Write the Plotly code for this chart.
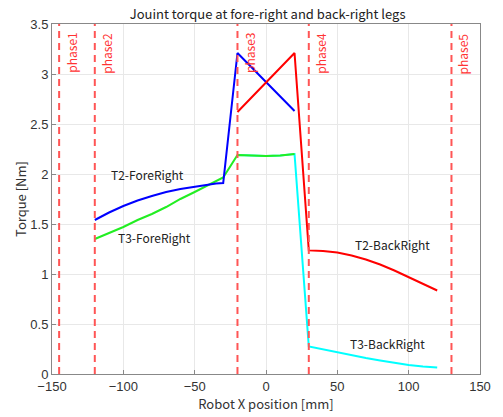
import plotly.graph_objects as go

# ---- data ----
t2_fore_x = [-120, -110, -100, -90, -80, -70, -60, -50, -40, -35, -30, -20, 20]
t2_fore_y = [1.54, 1.615, 1.68, 1.735, 1.78, 1.82, 1.85, 1.875, 1.895, 1.905, 1.91, 3.21, 2.63]

t3_fore_x = [-120, -110, -100, -90, -80, -70, -60, -50, -40, -30, -20, -10, 0, 10, 20]
t3_fore_y = [1.35, 1.41, 1.47, 1.54, 1.60, 1.67, 1.75, 1.82, 1.89, 1.965, 2.19, 2.185, 2.18, 2.185, 2.20]

t2_back_x = [-20, 20, 30, 40, 50, 60, 70, 80, 90, 100, 110, 120]
t2_back_y = [2.62, 3.21, 1.236, 1.23, 1.215, 1.185, 1.145, 1.095, 1.035, 0.97, 0.905, 0.835]

t3_back_x = [-20, -10, 0, 10, 20, 30, 40, 50, 60, 70, 80, 90, 100, 110, 120]
t3_back_y = [2.19, 2.185, 2.18, 2.185, 2.20, 0.275, 0.245, 0.215, 0.185, 0.16, 0.135, 0.11, 0.09, 0.075, 0.065]

phase_x = [-145, -120, -20, 30, 130]
phase_labels = ["phase1", "phase2", "phase3", "phase4", "phase5"]

series_labels = ["T2-ForeRight", "T3-ForeRight", "T2-BackRight", "T3-BackRight"]
label_x = [-83, -78, 89, 85]
label_y = [2.0, 1.37, 1.30, 0.31]

y_range = [0, 3.5]
x_range = [-150, 150]

FONT = "Noto Sans CJK JP"
TICKFONT = "Liberation Sans"

fig = go.Figure()
fig.add_trace(go.Scatter(x=t3_back_x, y=t3_back_y, mode="lines", line=dict(color="#00FFFF", width=2)))
fig.add_trace(go.Scatter(x=t3_fore_x, y=t3_fore_y, mode="lines", line=dict(color="#22EE22", width=2)))
fig.add_trace(go.Scatter(x=t2_fore_x, y=t2_fore_y, mode="lines", line=dict(color="#0000FF", width=2)))
fig.add_trace(go.Scatter(x=t2_back_x, y=t2_back_y, mode="lines", line=dict(color="#FF0000", width=2)))

for px in phase_x:
    fig.add_trace(go.Scatter(x=[px, px], y=y_range, mode="lines",
                             line=dict(color="#FF5555", width=2, dash="7px,5px")))

for px, lab in zip(phase_x, phase_labels):
    fig.add_annotation(x=px, y=1, xref="x", yref="paper", text=lab, textangle=-90,
                       showarrow=False, xanchor="left", yanchor="top", xshift=1, yshift=-7,
                       font=dict(family=FONT, size=12, color="#FF3333"))

for lx, ly, lab in zip(label_x, label_y, series_labels):
    fig.add_annotation(x=lx, y=ly, text=lab, showarrow=False,
                       font=dict(family=FONT, size=12, color="#222222"))

axis_common = dict(showgrid=True, gridcolor="#E8E8E8", gridwidth=1, zeroline=False,
                   showline=True, linecolor="#888888", linewidth=1, mirror=True,
                   ticks="inside", ticklen=4, tickcolor="#888888",
                   tickfont=dict(family=TICKFONT, size=13, color="#333333"))

fig.update_layout(
    width=503, height=417,
    margin=dict(l=52, r=21, t=24, b=41),
    paper_bgcolor="white", plot_bgcolor="white",
    showlegend=False,
    title=dict(text="Jouint torque at fore-right and back-right legs", x=0.532, xanchor="center",
               y=0.965, yanchor="middle", font=dict(family=FONT, size=13, color="#222222")),
    xaxis=dict(range=x_range, dtick=50, title=dict(text="Robot X position [mm]", standoff=2,
               font=dict(family=FONT, size=13, color="#333333")), **axis_common),
    yaxis=dict(range=y_range, dtick=0.5, title=dict(text="Torque [Nm]", standoff=0,
               font=dict(family=FONT, size=13, color="#333333")), **axis_common),
)

fig.write_html("out.html", config={"displayModeBar": False},
               post_script="document.body.style.margin='0';document.body.style.padding='0';")
